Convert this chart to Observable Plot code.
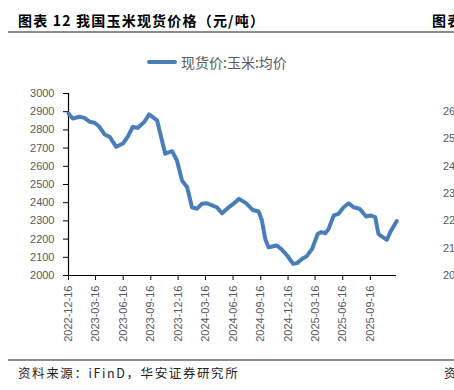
<!DOCTYPE html>
<html><head><meta charset="utf-8">
<script src="https://cdn.jsdelivr.net/npm/d3@7"></script>
<script src="https://cdn.jsdelivr.net/npm/@observablehq/plot@0.6"></script>
<style>
html,body{margin:0;padding:0;background:#fff;}
#page{position:relative;width:454px;height:390px;overflow:hidden;background:#fff;font-family:"Noto Sans CJK SC","Liberation Sans",sans-serif;}
#chart{position:absolute;left:0;top:0;}
#chart svg{background:transparent;}
.abs{position:absolute;white-space:nowrap;}
.title{font-weight:bold;font-size:14px;letter-spacing:1.2px;color:#000;top:10px;left:18px;}
.rule{position:absolute;left:8px;right:0;height:2px;background:#8c8c8c;}
.caption{font-size:12.5px;letter-spacing:1.6px;color:#222;top:363px;left:18px;}
.legend-swatch{position:absolute;left:147px;top:60px;width:30px;height:4px;border-radius:2px;background:#4A7EBB;}
.legend-text{font-size:14px;color:#595959;top:52px;left:181px;}
.nexty{font-family:"Liberation Sans",sans-serif;font-size:11px;color:#595959;left:443px;}
</style></head>
<body><div id="page">
<div class="abs title">图表 12 我国玉米现货价格（元/吨）</div>
<div class="abs title" style="left:432px">图表</div>
<div class="rule" style="top:31px"></div>
<div id="chart"></div>
<div class="legend-swatch"></div>
<div class="abs legend-text">现货价:玉米:均价</div>
<div class="rule" style="top:359px"></div>
<div class="abs caption">资料来源：iFinD，华安证券研究所</div>
<div class="abs caption" style="left:444px">资</div>
</div>
<script>
const seriesName = "现货价:玉米:均价";
const dates = ["2022-12-16","2022-12-30","2023-01-22","2023-02-07","2023-02-24","2023-03-13","2023-03-29","2023-04-15","2023-05-02","2023-05-24","2023-06-15","2023-07-01","2023-07-18","2023-08-03","2023-08-26","2023-09-10","2023-09-28","2023-10-07","2023-11-03","2023-11-26","2023-12-12","2023-12-29","2024-01-15","2024-01-31","2024-02-17","2024-03-04","2024-03-21","2024-04-07","2024-04-23","2024-05-10","2024-05-29","2024-06-17","2024-07-06","2024-07-30","2024-08-20","2024-09-09","2024-09-20","2024-10-01","2024-10-12","2024-11-09","2024-11-26","2024-12-13","2025-01-02","2025-01-15","2025-02-01","2025-02-15","2025-03-06","2025-03-25","2025-04-05","2025-04-19","2025-04-30","2025-05-17","2025-06-02","2025-06-19","2025-07-06","2025-07-22","2025-08-11","2025-09-02","2025-09-16","2025-10-02","2025-10-13","2025-10-19","2025-11-05","2025-11-10","2025-11-21","2025-12-13"];
const prices = [2890,2863,2872,2866,2845,2839,2817,2775,2762,2707,2725,2762,2817,2811,2845,2885,2863,2852,2669,2683,2632,2522,2485,2375,2367,2394,2397,2385,2375,2342,2370,2394,2421,2396,2360,2352,2302,2201,2155,2165,2141,2110,2064,2068,2092,2104,2146,2229,2238,2232,2256,2330,2339,2375,2397,2375,2367,2324,2330,2321,2229,2220,2201,2196,2238,2299];
const xTickLabels = ["2022-12-16","2023-03-16","2023-06-16","2023-09-16","2023-12-16","2024-03-16","2024-06-16","2024-09-16","2024-12-16","2025-03-16","2025-06-16","2025-09-16"];
const yTicks = [2000,2100,2200,2300,2400,2500,2600,2700,2800,2900,3000];
const nextChartYLabels = ["2600","2500","2400","2300","2200","2100","2000"];

const parse = d3.utcParse("%Y-%m-%d");
const data = dates.map((d, i) => ({date: parse(d), value: prices[i]}));
const xTicks = xTickLabels.map(parse);
const x0 = parse("2022-12-16"), x1 = parse("2025-12-12");

const chart = Plot.plot({
  width: 454,
  height: 390,
  marginTop: 93,
  marginBottom: 115,
  marginLeft: 68,
  marginRight: 58,
  style: {fontFamily: "'Liberation Sans', Arial, sans-serif", fontSize: "11px", color: "#595959", background: "transparent"},
  x: {type: "utc", domain: [x0, x1]},
  y: {domain: [2000, 3000]},
  marks: [
    Plot.axisY({ticks: yTicks, tickSize: 5, tickPadding: 9, tickFormat: d => String(d), label: null, stroke: "#000", fill: "#595959"}),
    Plot.axisX({ticks: xTicks, tickSize: 5, tickPadding: 5, tickRotate: -90, tickFormat: d3.utcFormat("%Y-%m-%d"), label: null, stroke: "#000", fill: "#595959"}),
    Plot.ruleX([x0], {stroke: "#000", strokeWidth: 1.2}),
    Plot.ruleY([2000], {stroke: "#000", strokeWidth: 1.2}),
    Plot.line(data, {x: "date", y: "value", stroke: "#4A7EBB", strokeWidth: 4, strokeLinejoin: "round", strokeLinecap: "round", clip: false})
  ]
});
document.getElementById("chart").appendChild(chart);

const page = document.getElementById("page");
nextChartYLabels.forEach((t, i) => {
  const el = document.createElement("div");
  el.className = "abs nexty";
  el.style.top = (105 + i * 27.3) + "px";
  el.textContent = t;
  page.appendChild(el);
});
</script>
</body></html>
